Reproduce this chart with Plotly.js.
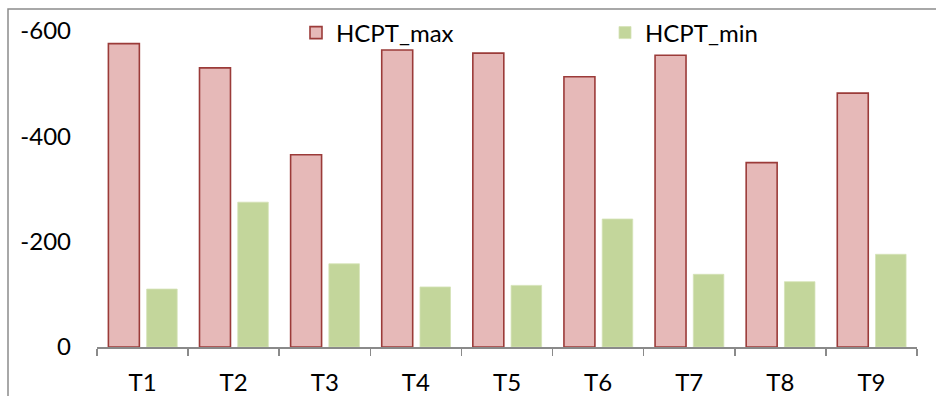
<!DOCTYPE html>
<html>
<head>
<meta charset="utf-8">
<script src="https://cdn.plot.ly/plotly-3.0.1.min.js"></script>
<style>
  html, body { margin: 0; padding: 0; background: #fff; overflow: hidden; }
  #chart { width: 936px; height: 396px; }
</style>
</head>
<body>
<div id="chart"></div>
<script>
// Categories and series
const categories = ["T1", "T2", "T3", "T4", "T5", "T6", "T7", "T8", "T9"];
const hcptMax = [-576, -530, -365, -564, -558, -513, -554, -350, -482];
const hcptMin = [-110, -275, -158, -114, -117, -243, -138, -124, -176];

// Value-axis ticks (printed with a plain hyphen)
const yTickVals = [0, -200, -400, -600];
const yTickText = ["0", "-200", "-400", "-600"];

const FONT = "Lato, 'Noto Sans', sans-serif";
const FSIZE = 24;

// plot-area geometry in pixels
const PL = 97, PR = 917, PB = 347.5, PT = 31;
const px2x = (p) => (p - PL) / (PR - PL);
const px2y = (p) => (PB - p) / (PB - PT);

const traces = [
  {
    type: "bar",
    name: "HCPT_max",
    legend: "legend",
    x: categories,
    y: hcptMax,
    width: 0.34,
    offset: -0.375,
    marker: { color: "#E6B9B8", line: { color: "#9B3B39", width: 1.6 } },
    hoverinfo: "x+y"
  },
  {
    type: "bar",
    name: "HCPT_min",
    legend: "legend2",
    x: categories,
    y: hcptMin,
    width: 0.335,
    offset: 0.045,
    marker: { color: "#C3D69B", line: { color: "#D4E2B6", width: 0.8 } },
    hoverinfo: "x+y"
  }
];

const legendBase = {
  orientation: "h",
  xanchor: "left",
  yanchor: "middle",
  y: px2y(33),
  bgcolor: "rgba(0,0,0,0)",
  borderwidth: 0,
  font: { family: FONT, size: FSIZE, color: "#000" },
  itemclick: false,
  itemdoubleclick: false
};

const layout = {
  width: 936,
  height: 396,
  margin: { l: PL, r: 936 - PR, t: PT, b: 396 - PB, pad: 0, autoexpand: false },
  paper_bgcolor: "#fff",
  plot_bgcolor: "rgba(0,0,0,0)",
  font: { family: FONT, size: FSIZE, color: "#000" },
  barmode: "overlay",
  showlegend: true,
  legend: Object.assign({}, legendBase, { x: px2x(296) }),
  legend2: Object.assign({}, legendBase, { x: px2x(605) }),
  xaxis: {
    type: "category",
    range: [-0.5, 8.5],
    showline: true,
    linecolor: "#8A8A8A",
    linewidth: 1.5,
    ticks: "outside",
    tickson: "boundaries",
    ticklen: 7,
    tickwidth: 1.5,
    tickcolor: "#8A8A8A",
    showgrid: false,
    zeroline: false,
    ticklabelstandoff: 14,
    tickfont: { family: FONT, size: FSIZE, color: "#000" }
  },
  yaxis: {
    range: [0, -600],
    tickmode: "array",
    tickvals: yTickVals,
    ticktext: yTickText,
    showline: false,
    showgrid: false,
    zeroline: false,
    ticks: "",
    ticklabelstandoff: 25,
    tickfont: { family: FONT, size: FSIZE, color: "#000" }
  },
  shapes: [
    {
      type: "rect",
      xref: "paper",
      yref: "paper",
      x0: px2x(8),
      x1: px2x(945),
      y0: px2y(405),
      y1: px2y(9),
      line: { color: "#8C8C8C", width: 1.5 },
      fillcolor: "rgba(0,0,0,0)",
      layer: "below"
    }
  ]
};

Plotly.newPlot("chart", traces, layout, { displayModeBar: false, staticPlot: true });
</script>
</body>
</html>
